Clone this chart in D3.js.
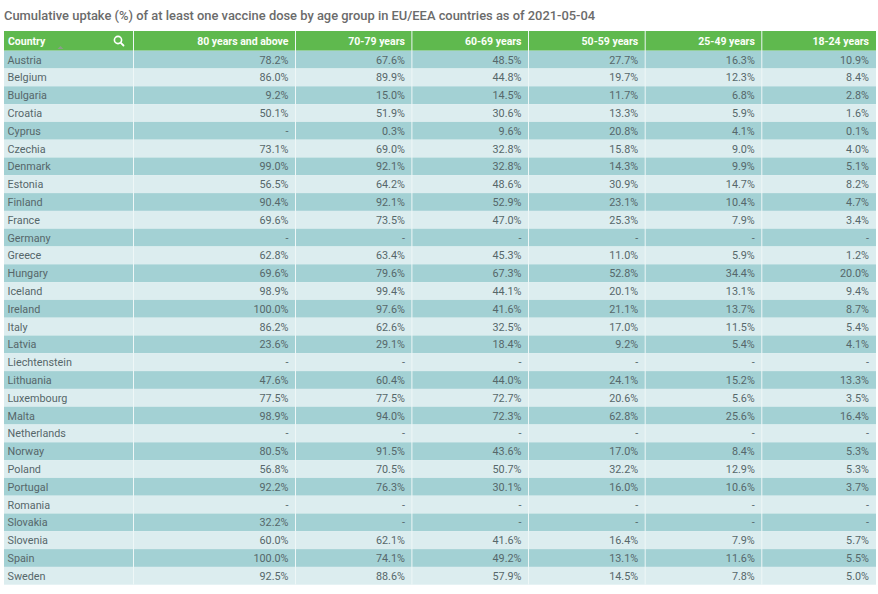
<!DOCTYPE html>
<html>
<head>
<meta charset="utf-8">
<script src="https://cdn.jsdelivr.net/npm/d3@7"></script>
<style>
  body { margin: 0; background: #fff; }
  svg { display: block; font-family: Roboto, "Noto Sans", sans-serif; }
</style>
</head>
<body>
<svg id="chart" width="878" height="594"></svg>
<script>
var title = 'Cumulative uptake (%) of at least one vaccine dose by age group in EU/EEA countries as of 2021-05-04';

var countries = ['Austria', 'Belgium', 'Bulgaria', 'Croatia', 'Cyprus', 'Czechia', 'Denmark', 'Estonia',
  'Finland', 'France', 'Germany', 'Greece', 'Hungary', 'Iceland', 'Ireland', 'Italy', 'Latvia',
  'Liechtenstein', 'Lithuania', 'Luxembourg', 'Malta', 'Netherlands', 'Norway', 'Poland', 'Portugal',
  'Romania', 'Slovakia', 'Slovenia', 'Spain', 'Sweden'];

var ageGroups = ['80 years and above', '70-79 years', '60-69 years', '50-59 years', '25-49 years', '18-24 years'];

// null = no data reported
var age80plus = [78.2, 86.0, 9.2, 50.1, null, 73.1, 99.0, 56.5, 90.4, 69.6, null, 62.8, 69.6, 98.9, 100.0,
  86.2, 23.6, null, 47.6, 77.5, 98.9, null, 80.5, 56.8, 92.2, null, 32.2, 60.0, 100.0, 92.5];
var age70to79 = [67.6, 89.9, 15.0, 51.9, 0.3, 69.0, 92.1, 64.2, 92.1, 73.5, null, 63.4, 79.6, 99.4, 97.6,
  62.6, 29.1, null, 60.4, 77.5, 94.0, null, 91.5, 70.5, 76.3, null, null, 62.1, 74.1, 88.6];
var age60to69 = [48.5, 44.8, 14.5, 30.6, 9.6, 32.8, 32.8, 48.6, 52.9, 47.0, null, 45.3, 67.3, 44.1, 41.6,
  32.5, 18.4, null, 44.0, 72.7, 72.3, null, 43.6, 50.7, 30.1, null, null, 41.6, 49.2, 57.9];
var age50to59 = [27.7, 19.7, 11.7, 13.3, 20.8, 15.8, 14.3, 30.9, 23.1, 25.3, null, 11.0, 52.8, 20.1, 21.1,
  17.0, 9.2, null, 24.1, 20.6, 62.8, null, 17.0, 32.2, 16.0, null, null, 16.4, 13.1, 14.5];
var age25to49 = [16.3, 12.3, 6.8, 5.9, 4.1, 9.0, 9.9, 14.7, 10.4, 7.9, null, 5.9, 34.4, 13.1, 13.7,
  11.5, 5.4, null, 15.2, 5.6, 25.6, null, 8.4, 12.9, 10.6, null, null, 7.9, 11.6, 7.8];
var age18to24 = [10.9, 8.4, 2.8, 1.6, 0.1, 4.0, 5.1, 8.2, 4.7, 3.4, null, 1.2, 20.0, 9.4, 8.7,
  5.4, 4.1, null, 13.3, 3.5, 16.4, null, 5.3, 5.3, 3.7, null, null, 5.7, 5.5, 5.0];

var series = [age80plus, age70to79, age60to69, age50to59, age25to49, age18to24];

// layout
var left = 4, right = 876, headTop = 31, headBottom = 50.7, tableBottom = 584.7;
var colWidths = [129.5, 162, 116.4, 116.6, 116.7, 116.6, 114.2];

var svg = d3.select('#chart');

svg.append('text')
  .attr('x', 4).attr('y', 20)
  .attr('fill', '#6b6b6b')
  .attr('font-size', 12.9)
  .attr('font-weight', 500)
  .text(title);

// column edges from the widths
var columns = ['Country'].concat(ageGroups);
var edges = [left];
colWidths.forEach(function (w) { edges.push(edges[edges.length - 1] + w); });
var colX = d3.scaleOrdinal().domain(columns).range(edges.slice(0, -1));
var colW = d3.scaleOrdinal().domain(columns).range(colWidths);

var y = d3.scaleBand().domain(countries).range([headBottom, tableBottom]).padding(0);

// header
var head = svg.append('g').attr('class', 'header');
head.append('rect')
  .attr('x', left).attr('y', headTop)
  .attr('width', right - left).attr('height', headBottom - headTop)
  .attr('fill', '#5fb94e');

head.selectAll('text').data(columns).enter().append('text')
  .attr('x', function (d, i) { return i === 0 ? colX(d) + 4 : colX(d) + colW(d) - 7; })
  .attr('y', (headTop + headBottom) / 2 + 4)
  .attr('text-anchor', function (d, i) { return i === 0 ? 'start' : 'end'; })
  .attr('fill', '#fbfff8')
  .attr('font-size', 10.5)
  .attr('font-weight', 700)
  .text(function (d) { return d; });

// search icon and sort marker in the Country header
head.append('circle')
  .attr('cx', 118).attr('cy', 40).attr('r', 3.6)
  .attr('fill', 'none').attr('stroke', '#fff').attr('stroke-width', 1.6);
head.append('line')
  .attr('x1', 120.6).attr('y1', 42.6).attr('x2', 123.5).attr('y2', 45.5)
  .attr('stroke', '#fff').attr('stroke-width', 1.8).attr('stroke-linecap', 'round');
head.append('path')
  .attr('d', 'M57.5,49 L60.5,46 L63.5,49 Z')
  .attr('fill', '#8a9e8a');

// body rows
var rows = svg.append('g').attr('class', 'rows')
  .selectAll('g').data(countries).enter().append('g')
  .attr('transform', function (d) { return 'translate(0,' + y(d) + ')'; });

rows.append('rect')
  .attr('x', left).attr('y', 0)
  .attr('width', right - left).attr('height', y.bandwidth())
  .attr('fill', function (d, i) { return i % 2 === 0 ? '#a3d1d4' : '#dcedef'; });

rows.append('text')
  .attr('x', colX('Country') + 3.5)
  .attr('y', y.bandwidth() / 2 + 4)
  .attr('fill', '#56676a')
  .attr('font-size', 10.8)
  .text(function (d) { return d; });

var fmt = d3.format('.1f');
rows.each(function (country, i) {
  var g = d3.select(this);
  g.selectAll('text.val').data(ageGroups).enter().append('text')
    .attr('class', 'val')
    .attr('x', function (a) { return colX(a) + colW(a) - 7; })
    .attr('y', y.bandwidth() / 2 + 4)
    .attr('text-anchor', 'end')
    .attr('fill', '#56676a')
    .attr('font-size', 10.8)
    .text(function (a, j) {
      var v = series[j][i];
      return v == null ? '-' : fmt(v) + '%';
    });
});

// cell dividers
svg.append('g').attr('class', 'grid')
  .selectAll('line').data(columns.slice(1)).enter().append('line')
  .attr('x1', function (d) { return colX(d); })
  .attr('x2', function (d) { return colX(d); })
  .attr('y1', headTop).attr('y2', tableBottom)
  .attr('stroke', '#eef7f7').attr('stroke-width', 1);
</script>
</body>
</html>
